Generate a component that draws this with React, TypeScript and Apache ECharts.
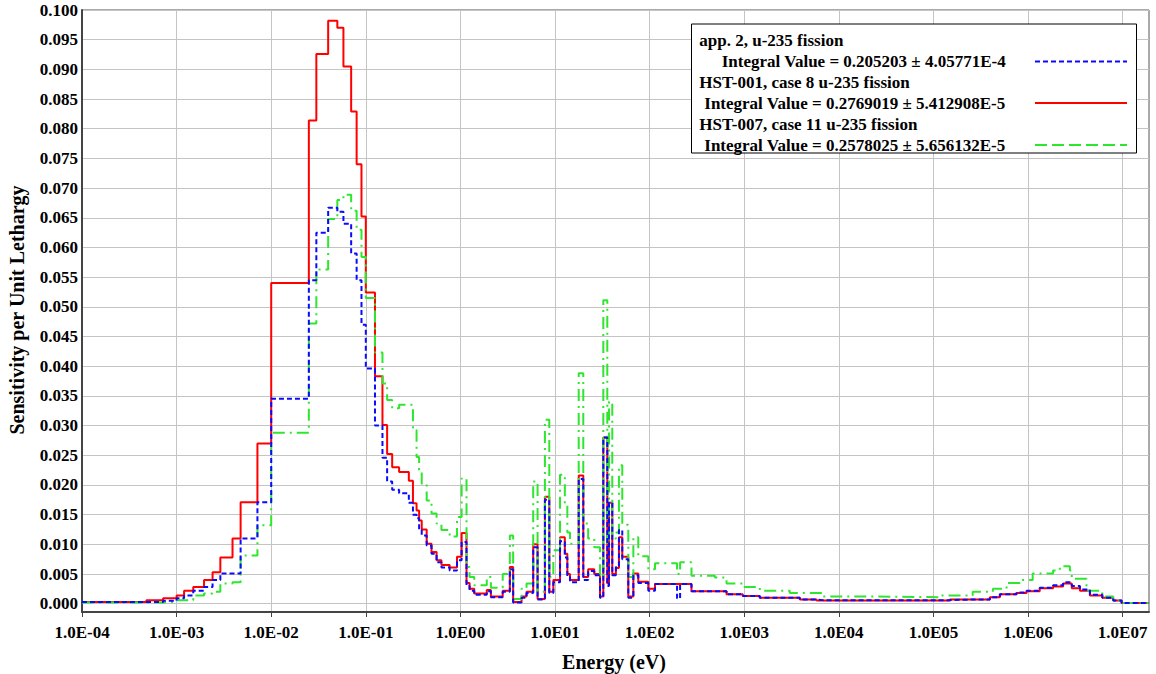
import React, { useEffect, useRef } from 'react';
import * as echarts from 'echarts';

// Energy group boundaries (eV); each value below holds from bound[i] to bound[i+1]
const energyBounds = [
  1e-4, 4.8e-4, 7.2e-4, 1.0e-3, 1.2e-3, 1.5e-3, 1.95e-3, 2.4e-3, 2.9e-3, 3.9e-3,
  4.75e-3, 7.15e-3, 0.01, 0.025, 0.03, 0.04, 0.05, 0.058, 0.07, 0.08,
  0.09, 0.1, 0.125, 0.15, 0.168, 0.19, 0.225, 0.285, 0.315, 0.344,
  0.366, 0.39, 0.44, 0.495, 0.56, 0.63, 0.77, 0.92, 1.03, 1.16,
  1.25, 1.4, 1.9, 2.1, 2.8, 3.33, 3.61, 4.43, 5.0, 5.88,
  6.54, 7.82, 8.7, 9.6, 11.3, 12.7, 13.5, 14.4, 17.8, 19.9,
  22.4, 26, 29.9, 32.4, 35.7, 37.2, 40.3, 44, 47.4, 51.4,
  59.5, 67.3, 75.9, 96.9, 114, 195, 210, 277, 490, 650,
  967, 1460, 3030, 3870, 5810, 6780, 2.3e4, 1.17e5, 1.49e5, 2.6e5,
  3.95e5, 4.25e5, 5.04e5, 5.93e5, 7.56e5, 8.2e5, 9.65e5, 1.12e6, 1.33e6, 1.84e6,
  2.17e6, 2.35e6, 2.77e6, 2.9e6, 3.54e6, 4.15e6, 4.51e6, 6.1e6, 7.95e6, 9.75e6,
  1.9e7,
];

const app2Values = [
  0.0003, 0.0003, 0.0005, 0.0009, 0.0014, 0.0022, 0.0028, 0.0040, 0.0051, 0.0051,
  0.0110, 0.0171, 0.0345, 0.0545, 0.0625, 0.0667, 0.0660, 0.0640, 0.0590, 0.0545,
  0.0470, 0.0396, 0.0300, 0.0246, 0.0206, 0.0192, 0.0186, 0.0170, 0.0150, 0.0144,
  0.0124, 0.0115, 0.0098, 0.0084, 0.0070, 0.0061, 0.0056, 0.0073, 0.0104, 0.0030,
  0.0022, 0.0015, 0.0021, 0.0011, 0.0020, 0.0058, 0.0002, 0.0010, 0.0018, 0.0095,
  0.0007, 0.0175, 0.0018, 0.0036, 0.0105, 0.0078, 0.0045, 0.0036, 0.0210, 0.0040,
  0.0055, 0.0048, 0.0010, 0.0280, 0.0030, 0.0170, 0.0048, 0.0062, 0.0124, 0.0075,
  0.0010, 0.0048, 0.0035, 0.0022, 0.0033, 0.0009, 0.0033, 0.0021, 0.0021, 0.0016,
  0.0013, 0.0010, 0.0010, 0.0007, 0.0006, 0.0006, 0.0006, 0.0006, 0.0007, 0.0007,
  0.0011, 0.0011, 0.0016, 0.0016, 0.0019, 0.0019, 0.0022, 0.0022, 0.0027, 0.0031,
  0.0031, 0.0036, 0.0036, 0.0030, 0.0024, 0.0024, 0.0015, 0.0010, 0.00055, 0.0001,
];

const hst001Values = [
  0.0003, 0.0006, 0.0009, 0.0014, 0.0022, 0.0028, 0.0040, 0.0053, 0.0078, 0.0110,
  0.0171, 0.0270, 0.0540, 0.0814, 0.0926, 0.0982, 0.0970, 0.0905, 0.0829, 0.0740,
  0.0652, 0.0524, 0.0383, 0.0301, 0.0252, 0.0230, 0.0222, 0.0207, 0.0169, 0.0157,
  0.0140, 0.0125, 0.0101, 0.0087, 0.0073, 0.0065, 0.0061, 0.0079, 0.0119, 0.0035,
  0.0025, 0.0017, 0.0023, 0.0012, 0.0022, 0.0062, 0.0003, 0.0012, 0.0020, 0.0100,
  0.0008, 0.0180, 0.0020, 0.0040, 0.0112, 0.0084, 0.0050, 0.0040, 0.0216, 0.0045,
  0.0058, 0.0050, 0.0012, 0.0280, 0.0034, 0.0170, 0.0050, 0.0060, 0.0112, 0.0079,
  0.0012, 0.0051, 0.0037, 0.0025, 0.0033, 0.0033, 0.0033, 0.0021, 0.0021, 0.0016,
  0.0013, 0.0010, 0.0010, 0.0007, 0.00055, 0.00055, 0.00055, 0.00055, 0.0007, 0.0007,
  0.0011, 0.0011, 0.0016, 0.0016, 0.0018, 0.0018, 0.0021, 0.0021, 0.0026, 0.0029,
  0.0029, 0.0034, 0.0034, 0.0026, 0.0022, 0.0022, 0.0014, 0.0010, 0.00055, 0.0001,
];

const hst007Values = [
  0.0002, 0.0002, 0.0003, 0.0006, 0.0006, 0.0014, 0.0017, 0.0020, 0.0034, 0.0036,
  0.0081, 0.0132, 0.0288, 0.0472, 0.0563, 0.0648, 0.0680, 0.0689, 0.0662, 0.0630,
  0.0584, 0.0515, 0.0423, 0.0371, 0.0343, 0.0329, 0.0335, 0.0335, 0.0292, 0.0247,
  0.0225, 0.0202, 0.0174, 0.0152, 0.0135, 0.0124, 0.0113, 0.0146, 0.0211, 0.0062,
  0.0045, 0.0031, 0.0045, 0.0027, 0.0050, 0.0115, 0.0008, 0.0025, 0.0034, 0.0206,
  0.0020, 0.0310, 0.0045, 0.0090, 0.0217, 0.0170, 0.0120, 0.0101, 0.0388, 0.0135,
  0.0110, 0.0095, 0.0045, 0.0511, 0.0095, 0.0340, 0.0110, 0.0120, 0.0233, 0.0133,
  0.0045, 0.0112, 0.0080, 0.0058, 0.0068, 0.0050, 0.0070, 0.0047, 0.0044, 0.0034,
  0.0028, 0.0022, 0.0018, 0.0018, 0.0018, 0.0012, 0.0011, 0.0014, 0.0014, 0.0020,
  0.0020, 0.0025, 0.0025, 0.0035, 0.0035, 0.0040, 0.0040, 0.0051, 0.0051, 0.0056,
  0.0063, 0.0063, 0.0056, 0.0042, 0.0042, 0.0022, 0.0022, 0.0012, 0.00055, 0.0001,
];

const xTickValues = [1e-4, 1e-3, 1e-2, 1e-1, 1e0, 1e1, 1e2, 1e3, 1e4, 1e5, 1e6, 1e7];
const xTickLabels = [
  '1.0E-04', '1.0E-03', '1.0E-02', '1.0E-01', '1.0E00', '1.0E01',
  '1.0E02', '1.0E03', '1.0E04', '1.0E05', '1.0E06', '1.0E07',
];
const yTickValues = [
  0, 0.005, 0.01, 0.015, 0.02, 0.025, 0.03, 0.035, 0.04, 0.045, 0.05,
  0.055, 0.06, 0.065, 0.07, 0.075, 0.08, 0.085, 0.09, 0.095, 0.1,
];
const yTickLabels = [
  '0.000', '0.005', '0.010', '0.015', '0.020', '0.025', '0.030', '0.035', '0.040', '0.045', '0.050',
  '0.055', '0.060', '0.065', '0.070', '0.075', '0.080', '0.085', '0.090', '0.095', '0.100',
];

const legendTitles = [
  'app. 2, u-235 fission',
  'HST-001, case 8 u-235 fission',
  'HST-007, case 11 u-235 fission',
];
const legendIntegrals = [
  'Integral Value = 0.205203 ± 4.05771E-4',
  'Integral Value = 0.2769019 ± 5.412908E-5',
  'Integral Value = 0.2578025 ± 5.656132E-5',
];

const xTitle = 'Energy (eV)';
const yTitle = 'Sensitivity per Unit Lethargy';

const FONT = '"Liberation Serif", "Times New Roman", serif';
const BLUE = '#0a0aff';
const RED = '#ff0000';
const GREEN = '#2ee62e';

function toStep(values: number[]) {
  const pts: number[][] = values.map((v, i) => [energyBounds[i], v]);
  pts.push([energyBounds[values.length], values[values.length - 1]]);
  return pts;
}

function nearestLabel(v: number, ticks: number[], labels: string[], logScale: boolean) {
  let best = 0;
  const f = (x: number) => (logScale ? Math.log10(x) : x);
  ticks.forEach((t, i) => {
    if (Math.abs(f(t) - f(v)) < Math.abs(f(ticks[best]) - f(v))) best = i;
  });
  const tol = logScale ? 1e-6 : 1e-9;
  return Math.abs(f(ticks[best]) - f(v)) < tol ? labels[best] : '';
}

export default function App() {
  const ref = useRef<HTMLDivElement>(null);

  useEffect(() => {
    document.body.style.margin = '0';
    if (!ref.current) return;
    const chart = echarts.init(ref.current, null, { renderer: 'svg' });

    const textStyle = (text: string, size: number) => ({
      text,
      fill: '#000',
      fontFamily: FONT,
      fontWeight: 'bold',
      fontSize: size,
      verticalAlign: 'middle',
      align: 'left',
    });

    const legendRows = [40, 61.5, 82, 103, 124, 145];
    const legendColors = [BLUE, RED, GREEN];
    const legendDash: any[] = [[5, 3], null, [12, 5]];
    const integralX = [721.7, 704.3, 704.3];

    const graphic: any[] = [
      {
        type: 'rect',
        z: 100,
        shape: { x: 691.5, y: 24, width: 445, height: 129 },
        style: { fill: '#fff', stroke: '#000', lineWidth: 1 },
      },
    ];
    legendTitles.forEach((t, i) => {
      graphic.push({
        type: 'text', z: 101, x: 699.3, y: legendRows[i * 2],
        style: textStyle(t, 17),
      });
      graphic.push({
        type: 'text', z: 101, x: integralX[i], y: legendRows[i * 2 + 1],
        style: textStyle(legendIntegrals[i], 17),
      });
      graphic.push({
        type: 'line', z: 101,
        shape: { x1: 1035, y1: legendRows[i * 2 + 1], x2: 1127, y2: legendRows[i * 2 + 1] },
        style: { stroke: legendColors[i], lineWidth: 2, lineDash: legendDash[i] || undefined },
      });
    });
    graphic.push({
      type: 'text', z: 101, x: 614, y: 662,
      style: { ...textStyle(xTitle, 20), align: 'center' },
    });
    graphic.push({
      type: 'text', z: 101, x: 17, y: 310, rotation: Math.PI / 2,
      style: { ...textStyle(yTitle, 20), align: 'center' },
    });

    const labelFont = {
      fontFamily: FONT,
      fontWeight: 'bold' as const,
      fontSize: 17,
      color: '#000',
    };
    const gridLine = { show: true, lineStyle: { color: '#c4c4c4', width: 1 } };

    chart.setOption({
      animation: false,
      backgroundColor: '#fff',
      grid: {
        left: 82, right: 7, top: 10, bottom: 62,
        show: true, borderColor: '#555', borderWidth: 1,
      },
      xAxis: {
        type: 'log',
        logBase: 10,
        min: 1e-4,
        max: 1.9e7,
        axisLine: { show: true, onZero: false, lineStyle: { color: '#444', width: 2 } },
        axisTick: { show: true, length: 5, customValues: xTickValues, lineStyle: { color: '#444', width: 1 } },
        minorTick: { show: false },
        splitLine: gridLine,
        axisLabel: {
          ...labelFont,
          margin: 12,
          customValues: xTickValues,
          showMinLabel: true,
          showMaxLabel: true,
          formatter: (v: number) => nearestLabel(v, xTickValues, xTickLabels, true),
        },
      },
      yAxis: {
        type: 'value',
        min: -0.0014,
        max: 0.1,
        axisLine: { show: true, lineStyle: { color: '#444', width: 2 } },
        axisTick: { show: false, customValues: yTickValues },
        splitLine: gridLine,
        axisLabel: {
          ...labelFont,
          margin: 4,
          customValues: yTickValues,
          showMinLabel: true,
          showMaxLabel: true,
          formatter: (v: number) => nearestLabel(v, yTickValues, yTickLabels, false),
        },
      },
      series: [
        {
          type: 'line', name: legendTitles[1], step: 'end', showSymbol: false, symbol: 'none',
          data: toStep(hst001Values), z: 2,
          lineStyle: { color: RED, width: 2 }, itemStyle: { color: RED },
        },
        {
          type: 'line', name: legendTitles[2], step: 'end', showSymbol: false, symbol: 'none',
          data: toStep(hst007Values), z: 3,
          lineStyle: { color: GREEN, width: 2, type: [12, 5, 2, 5] }, itemStyle: { color: GREEN },
        },
        {
          type: 'line', name: legendTitles[0], step: 'end', showSymbol: false, symbol: 'none',
          data: toStep(app2Values), z: 4,
          lineStyle: { color: BLUE, width: 2, type: [5, 3] }, itemStyle: { color: BLUE },
        },
      ],
      graphic,
    });

    return () => chart.dispose();
  }, []);

  return <div ref={ref} style={{ width: 1156, height: 674 }} />;
}
